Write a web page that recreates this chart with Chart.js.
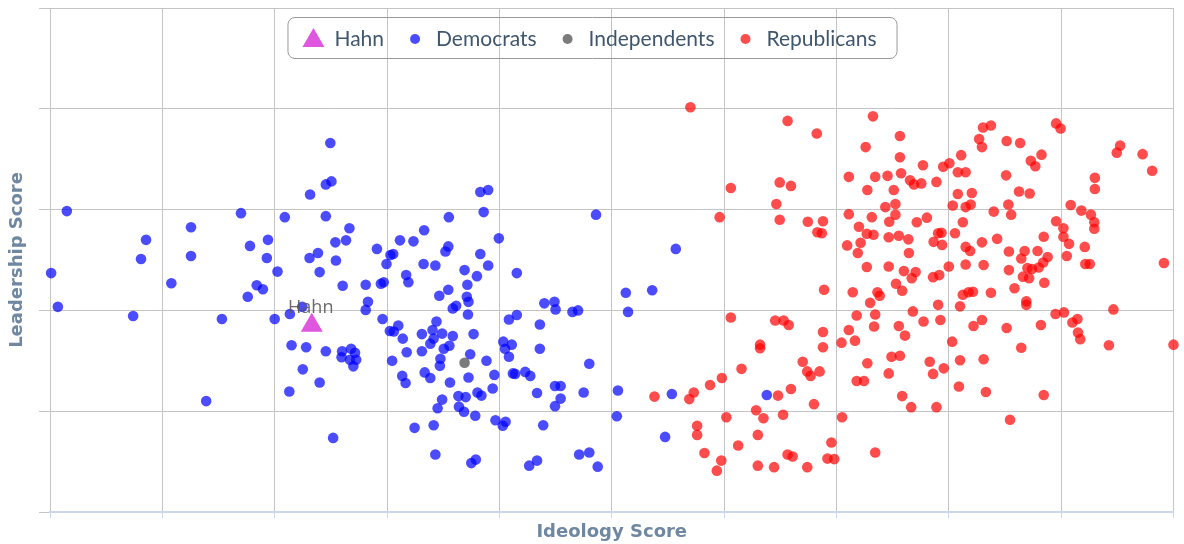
<!DOCTYPE html>
<html>
<head>
<meta charset="utf-8">
<script src="https://cdn.jsdelivr.net/npm/chart.js@4"></script>
<style>
  html, body { margin: 0; padding: 0; background: #fff; }
  #wrap { width: 1184px; height: 544px; }
</style>
</head>
<body>
<div id="wrap"><canvas id="chart" width="1184" height="544"></canvas></div>
<script>
// Ideology (x) and leadership (y) scores
const hahnPoint = [[-0.534, 0.370]];
const independentPoints = [[-0.262, 0.296]];
const democratPoints = [
  [-0.998, 0.474], [-0.986, 0.407], [-0.970, 0.597], [-0.852, 0.389], [-0.838, 0.502], [-0.829, 0.540],
  [-0.784, 0.454], [-0.749, 0.565], [-0.749, 0.508], [-0.722, 0.220], [-0.694, 0.383], [-0.660, 0.593],
  [-0.644, 0.528], [-0.648, 0.427], [-0.632, 0.450], [-0.621, 0.442], [-0.612, 0.540], [-0.614, 0.504],
  [-0.551, 0.407],
  [-0.501, 0.732], [-0.509, 0.650], [-0.499, 0.656], [-0.537, 0.630], [-0.234, 0.635], [-0.220, 0.639],
  [-0.228, 0.595], [-0.582, 0.585], [-0.509, 0.587], [-0.290, 0.585], [-0.028, 0.590], [-0.467, 0.563],
  [-0.492, 0.535], [-0.473, 0.539], [-0.523, 0.514], [-0.538, 0.504], [-0.491, 0.499], [-0.520, 0.476],
  [-0.595, 0.477], [-0.418, 0.522], [-0.389, 0.512], [-0.394, 0.510], [-0.377, 0.539], [-0.353, 0.537],
  [-0.334, 0.559], [-0.401, 0.492], [-0.335, 0.492], [-0.314, 0.489], [-0.291, 0.527], [-0.296, 0.517],
  [-0.201, 0.543], [-0.234, 0.512], [-0.220, 0.489], [-0.262, 0.480], [-0.240, 0.468], [-0.169, 0.474],
  [-0.366, 0.470], [-0.362, 0.456], [-0.406, 0.456], [-0.411, 0.453], [-0.438, 0.451], [-0.479, 0.449],
  [-0.257, 0.451], [-0.291, 0.441], [-0.307, 0.429], [-0.258, 0.427], [-0.255, 0.417], [-0.277, 0.409],
  [-0.283, 0.404], [-0.434, 0.417], [-0.438, 0.401], [-0.256, 0.392], [-0.600, 0.383], [-0.573, 0.393],
  [-0.408, 0.383], [-0.380, 0.370], [-0.395, 0.359], [-0.388, 0.358], [-0.372, 0.344], [-0.312, 0.378],
  [-0.319, 0.361], [-0.338, 0.353], [-0.302, 0.354], [-0.317, 0.344], [-0.323, 0.334], [-0.283, 0.349],
  [-0.289, 0.330], [-0.299, 0.324], [-0.246, 0.353], [-0.338, 0.319], [-0.365, 0.317], [-0.252, 0.313],
  [-0.305, 0.304], [-0.306, 0.290], [-0.223, 0.300], [-0.391, 0.300], [-0.183, 0.382], [-0.169, 0.391],
  [-0.128, 0.372], [-0.120, 0.414], [-0.102, 0.417], [-0.100, 0.402], [-0.070, 0.397], [-0.060, 0.400],
  [0.025, 0.435], [0.029, 0.397], [-0.193, 0.338], [-0.178, 0.332], [-0.190, 0.324], [-0.183, 0.308],
  [-0.128, 0.324], [-0.570, 0.331], [-0.544, 0.327], [-0.509, 0.319], [-0.480, 0.319], [-0.464, 0.324],
  [-0.457, 0.316], [-0.481, 0.307], [-0.466, 0.302], [-0.455, 0.302], [-0.460, 0.289], [-0.550, 0.283],
  [-0.520, 0.257], [-0.574, 0.239], [-0.373, 0.270], [-0.367, 0.256], [-0.333, 0.277], [-0.323, 0.266],
  [-0.288, 0.257], [-0.255, 0.267], [-0.209, 0.272], [-0.212, 0.245], [-0.176, 0.275], [-0.172, 0.274],
  [-0.154, 0.278], [-0.145, 0.270], [-0.040, 0.294], [-0.273, 0.230], [-0.260, 0.228], [-0.239, 0.237],
  [-0.232, 0.231], [-0.302, 0.223], [-0.310, 0.206], [-0.272, 0.209], [-0.263, 0.199], [-0.243, 0.191],
  [-0.207, 0.182], [-0.189, 0.179], [-0.194, 0.171], [-0.133, 0.236], [-0.101, 0.250], [-0.091, 0.250],
  [-0.091, 0.225], [-0.101, 0.210], [-0.050, 0.237], [0.011, 0.241], [0.009, 0.190], [-0.122, 0.172],
  [-0.351, 0.167], [-0.317, 0.172], [-0.496, 0.147], [-0.314, 0.114], [-0.250, 0.097], [-0.242, 0.104],
  [-0.147, 0.092], [-0.133, 0.102], [-0.058, 0.114], [-0.040, 0.118], [-0.025, 0.090],
  [0.114, 0.522], [0.072, 0.440], [0.107, 0.234], [0.276, 0.232], [0.095, 0.149]
];
const republicanPoints = [
  [0.140, 0.803], [0.313, 0.776], [0.365, 0.751], [0.465, 0.785], [0.513, 0.746], [0.452, 0.724],
  [0.513, 0.704], [0.212, 0.643], [0.299, 0.654], [0.319, 0.647], [0.293, 0.611], [0.192, 0.585],
  [0.299, 0.580], [0.349, 0.576], [0.376, 0.577], [0.366, 0.555], [0.374, 0.553], [0.422, 0.665],
  [0.469, 0.665], [0.491, 0.667], [0.515, 0.672], [0.531, 0.658], [0.538, 0.650], [0.551, 0.652],
  [0.554, 0.688], [0.578, 0.655], [0.455, 0.639], [0.502, 0.639], [0.505, 0.611], [0.487, 0.605],
  [0.505, 0.590], [0.422, 0.591], [0.463, 0.585], [0.494, 0.576], [0.543, 0.575], [0.561, 0.584],
  [0.440, 0.566], [0.454, 0.552], [0.466, 0.550], [0.493, 0.545], [0.511, 0.548], [0.528, 0.541],
  [0.419, 0.529], [0.443, 0.534], [0.438, 0.514], [0.529, 0.514], [0.454, 0.486], [0.493, 0.487],
  [0.520, 0.478], [0.541, 0.476], [0.534, 0.464], [0.572, 0.466], [0.583, 0.470], [0.573, 0.536],
  [0.581, 0.553], [0.587, 0.554], [0.588, 0.530], [0.611, 0.553], [0.600, 0.487], [0.590, 0.685],
  [0.601, 0.692], [0.622, 0.708], [0.616, 0.674], [0.630, 0.674], [0.616, 0.631], [0.641, 0.633],
  [0.607, 0.608], [0.630, 0.605], [0.639, 0.610], [0.625, 0.575], [0.630, 0.526], [0.638, 0.518],
  [0.659, 0.535], [0.630, 0.491], [0.662, 0.490], [0.686, 0.542], [0.680, 0.596], [0.706, 0.610],
  [0.711, 0.590], [0.661, 0.763], [0.675, 0.767], [0.654, 0.740], [0.659, 0.724], [0.703, 0.736],
  [0.727, 0.732], [0.702, 0.668], [0.725, 0.636], [0.744, 0.632], [0.746, 0.697], [0.754, 0.686],
  [0.765, 0.709], [0.791, 0.771], [0.799, 0.761], [0.860, 0.663], [0.860, 0.641], [0.817, 0.609],
  [0.836, 0.598], [0.853, 0.590], [0.859, 0.575], [0.859, 0.562], [0.791, 0.577], [0.804, 0.563],
  [0.804, 0.546], [0.814, 0.532], [0.769, 0.546], [0.842, 0.526], [0.810, 0.508], [0.843, 0.492],
  [0.851, 0.492], [0.776, 0.506], [0.768, 0.495], [0.760, 0.485], [0.758, 0.518], [0.735, 0.518],
  [0.729, 0.503], [0.707, 0.517], [0.707, 0.480], [0.740, 0.484], [0.748, 0.482], [0.732, 0.467],
  [0.743, 0.464], [0.770, 0.455], [0.717, 0.444], [0.738, 0.418], [0.738, 0.411], [0.675, 0.435],
  [0.643, 0.437], [0.635, 0.436], [0.625, 0.431], [0.620, 0.408], [0.899, 0.713], [0.905, 0.727],
  [0.945, 0.710], [0.962, 0.677], [0.983, 0.494], [1.000, 0.332], [0.893, 0.402], [0.885, 0.331],
  [0.790, 0.393], [0.805, 0.396], [0.820, 0.376], [0.829, 0.383], [0.830, 0.356], [0.834, 0.343],
  [0.764, 0.371], [0.729, 0.326], [0.703, 0.365], [0.659, 0.381], [0.644, 0.369], [0.662, 0.303],
  [0.666, 0.238], [0.769, 0.232], [0.709, 0.183], [0.620, 0.301], [0.618, 0.249], [0.606, 0.338],
  [0.591, 0.285], [0.572, 0.274], [0.566, 0.298], [0.578, 0.208], [0.533, 0.208], [0.517, 0.230],
  [0.585, 0.381], [0.581, 0.411], [0.555, 0.378], [0.536, 0.398], [0.511, 0.369], [0.522, 0.350],
  [0.498, 0.308], [0.513, 0.310], [0.493, 0.275], [0.455, 0.295], [0.436, 0.260], [0.449, 0.260],
  [0.469, 0.118], [0.467, 0.368], [0.469, 0.392], [0.460, 0.415], [0.473, 0.436], [0.477, 0.429],
  [0.506, 0.453], [0.517, 0.439], [0.429, 0.436], [0.436, 0.390], [0.422, 0.361], [0.433, 0.340],
  [0.409, 0.336], [0.376, 0.357], [0.376, 0.327], [0.378, 0.441], [0.340, 0.298], [0.348, 0.279],
  [0.354, 0.270], [0.370, 0.279], [0.319, 0.244], [0.296, 0.231], [0.360, 0.214], [0.305, 0.193],
  [0.410, 0.188], [0.391, 0.138], [0.384, 0.106], [0.396, 0.105], [0.348, 0.089], [0.313, 0.114],
  [0.322, 0.110], [0.289, 0.089], [0.260, 0.092], [0.260, 0.153], [0.270, 0.186], [0.257, 0.202],
  [0.225, 0.132], [0.264, 0.332], [0.264, 0.325], [0.231, 0.284], [0.212, 0.386], [0.291, 0.380],
  [0.306, 0.380], [0.315, 0.371], [0.196, 0.266], [0.175, 0.252], [0.146, 0.237], [0.138, 0.224],
  [0.076, 0.229], [0.204, 0.188], [0.152, 0.171], [0.152, 0.153], [0.165, 0.117], [0.195, 0.102],
  [0.187, 0.082]
];

const xTicks = { min: -1, max: 1, step: 0.2 };
const yTicks = { min: 0, max: 1, step: 0.2 };

const toXY = pts => pts.map(p => ({ x: p[0], y: p[1] }));

const titleColor = '#6f87a0';
const legendColor = '#3f566f';
const gridColor = '#c4c4c4';

// legend drawn as a rounded box floating over the plot
const floatingLegend = {
    id: 'floatingLegend',
    afterDraw(chart) {
        const ctx = chart.ctx;
        ctx.save();
        ctx.font = '21px Lato';
        const items = chart.data.datasets.map(ds => ({
            label: ds.label,
            color: ds.backgroundColor,
            style: ds.pointStyle,
            w: ctx.measureText(ds.label).width
        }));
        const padL = 26, padR = 20, symToText = 21, itemGap = 31;
        let total = padL + padR + itemGap * (items.length - 1);
        items.forEach(it => total += symToText + it.w);
        const left = chart.width / 2 - total / 2;
        const top = 17, h = 41, cy = 39;

        ctx.beginPath();
        ctx.roundRect(left + 0.5, top + 0.5, total, h, 7);
        ctx.strokeStyle = '#999999';
        ctx.lineWidth = 1;
        ctx.stroke();

        let cx = left + padL;
        items.forEach(it => {
            ctx.fillStyle = it.color;
            ctx.beginPath();
            if (it.style === 'triangle') {
                const r = 12.7;
                ctx.moveTo(cx, cy + 1.7 - r);
                ctx.lineTo(cx + r * Math.sin(2 * Math.PI / 3), cy + 1.7 + r / 2);
                ctx.lineTo(cx - r * Math.sin(2 * Math.PI / 3), cy + 1.7 + r / 2);
                ctx.closePath();
            } else {
                ctx.arc(cx, cy, 5, 0, Math.PI * 2);
            }
            ctx.fill();
            ctx.fillStyle = legendColor;
            ctx.textBaseline = 'middle';
            ctx.textAlign = 'left';
            ctx.fillText(it.label, cx + symToText, cy);
            cx += symToText + it.w + itemGap;
        });
        ctx.restore();
    }
};

// "Hahn" label above the triangle
const hahnLabel = {
    id: 'hahnLabel',
    afterDatasetsDraw(chart) {
        const meta = chart.getDatasetMeta(0);
        const ctx = chart.ctx;
        ctx.save();
        ctx.font = '18px "Open Sans"';
        ctx.fillStyle = 'rgba(90, 90, 90, 0.9)';
        ctx.textAlign = 'center';
        ctx.textBaseline = 'middle';
        meta.data.forEach(pt => ctx.fillText('Hahn', pt.x - 1, pt.y - 18));
        ctx.restore();
    }
};

new Chart(document.getElementById('chart').getContext('2d'), {
    type: 'scatter',
    data: {
        datasets: [
            {
                label: 'Hahn',
                data: toXY(hahnPoint),
                pointStyle: 'triangle',
                pointRadius: 12.7,
                backgroundColor: '#df57df',
                borderWidth: 0,
                clip: false
            },
            {
                label: 'Democrats',
                data: toXY(democratPoints),
                pointRadius: 5.3,
                backgroundColor: 'rgba(0, 0, 255, 0.7)',
                borderWidth: 0,
                clip: false
            },
            {
                label: 'Independents',
                data: toXY(independentPoints),
                pointRadius: 5.3,
                backgroundColor: 'rgba(100, 100, 100, 0.85)',
                borderWidth: 0,
                clip: false
            },
            {
                label: 'Republicans',
                data: toXY(republicanPoints),
                pointRadius: 5.3,
                backgroundColor: 'rgba(255, 0, 0, 0.7)',
                borderWidth: 0,
                clip: false
            }
        ]
    },
    options: {
        responsive: false,
        animation: false,
        layout: { autoPadding: false, padding: { top: 8, right: 10.5, bottom: 0, left: 3 } },
        scales: {
            x: {
                type: 'linear',
                min: xTicks.min,
                max: xTicks.max,
                ticks: { display: false, stepSize: xTicks.step },
                grid: { color: gridColor, tickColor: '#ccd6eb', tickLength: 6, lineWidth: 1 },
                border: { color: '#ccd6eb', width: 2 },
                title: {
                    display: true,
                    text: 'Ideology Score',
                    color: titleColor,
                    font: { family: 'DejaVu Sans', size: 18, weight: 'bold' },
                    padding: { top: 3.4, bottom: 1 }
                }
            },
            y: {
                type: 'linear',
                min: yTicks.min,
                max: yTicks.max,
                ticks: { display: false, stepSize: yTicks.step },
                grid: { color: gridColor, tickLength: 11, lineWidth: 1 },
                border: { display: false },
                title: {
                    display: true,
                    text: 'Leadership Score',
                    color: titleColor,
                    font: { family: 'DejaVu Sans', size: 18, weight: 'bold' },
                    padding: { top: 4, bottom: 10.4 }
                }
            }
        },
        plugins: {
            legend: { display: false },
            tooltip: { enabled: false }
        }
    },
    plugins: [floatingLegend, hahnLabel]
});
</script>
</body>
</html>
